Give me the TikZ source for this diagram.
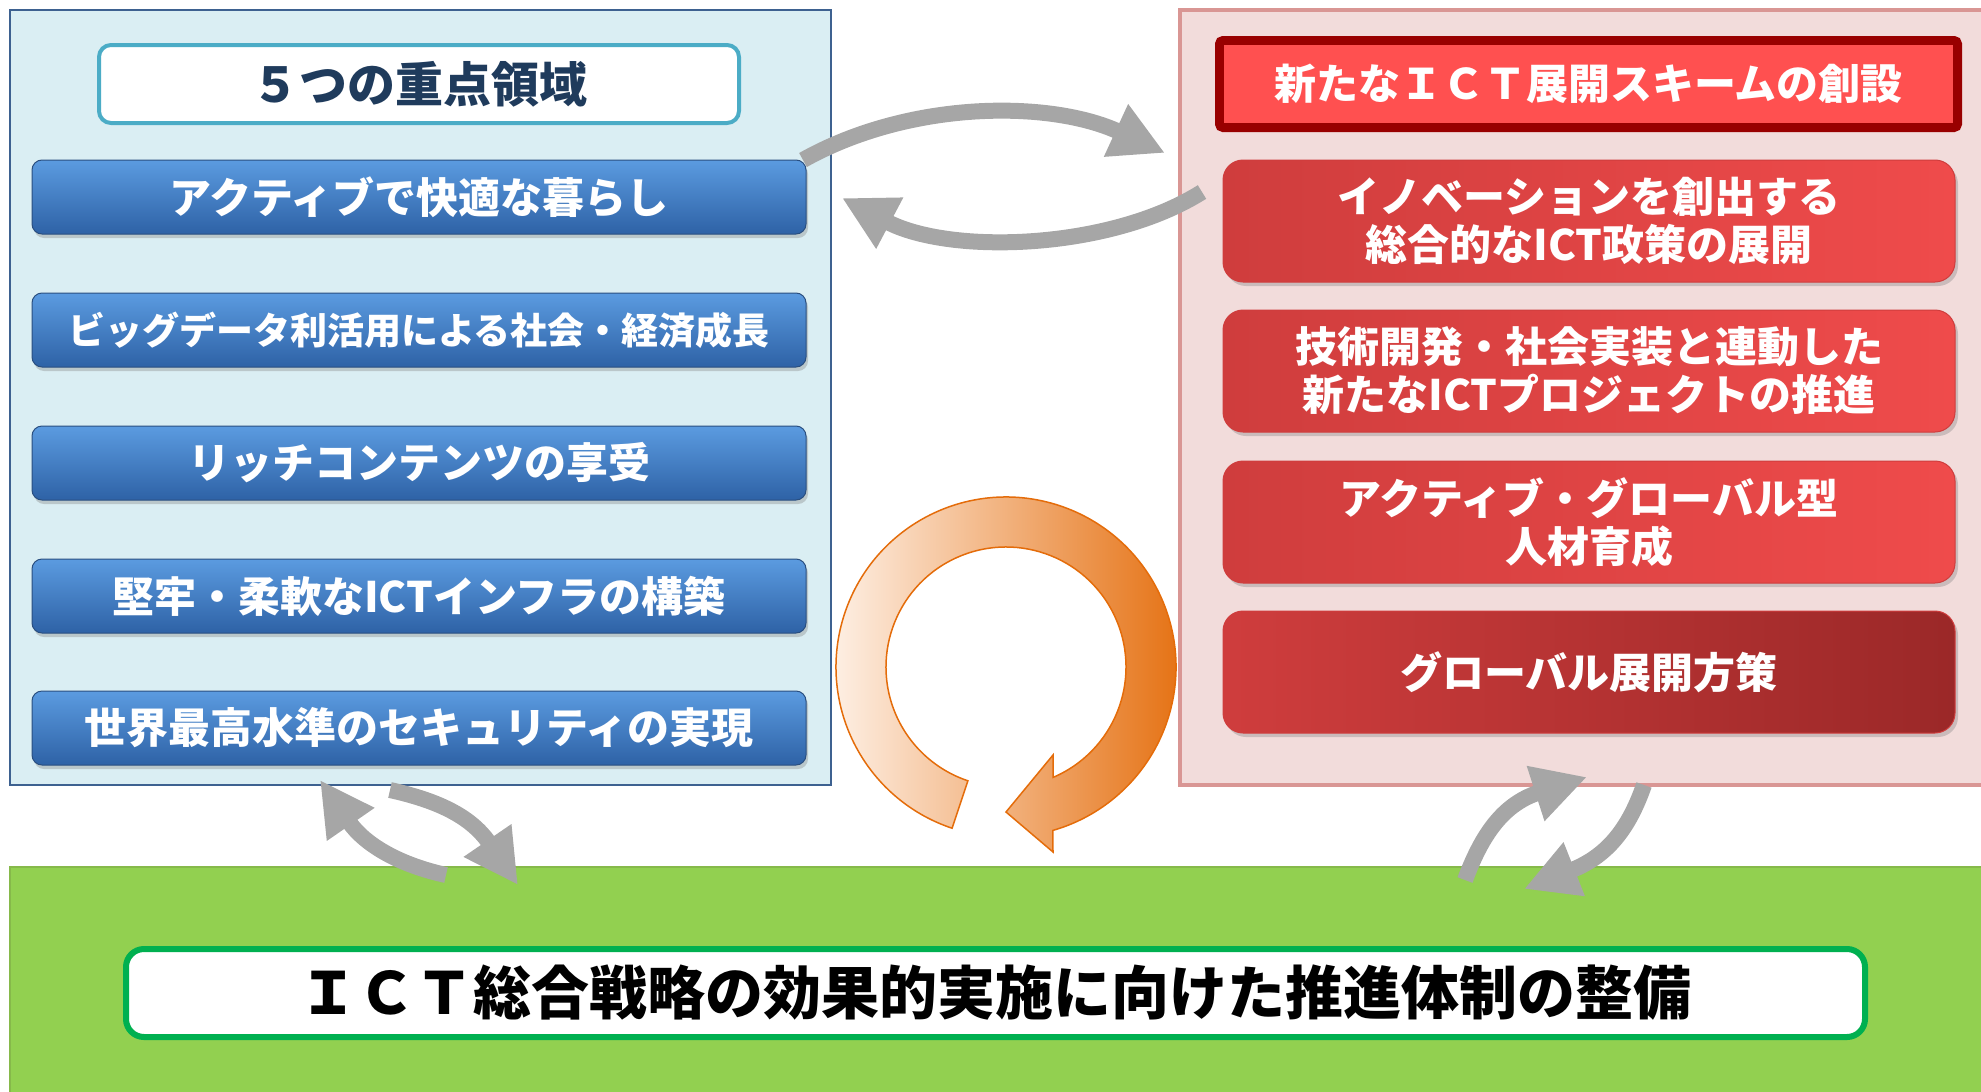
\documentclass[tikz,border=0pt]{standalone}
\usepackage{fontspec}
\setmainfont{Noto Sans CJK JP}
\usetikzlibrary{arrows.meta,shadows}
\definecolor{lpanel}{HTML}{DAEEF3}
\definecolor{lpanelb}{HTML}{3D6190}
\definecolor{rpanel}{HTML}{F2DCDB}
\definecolor{rpanelb}{HTML}{D99694}
\definecolor{teal}{HTML}{4BACC6}
\definecolor{navytxt}{HTML}{1F3B5C}
\definecolor{bluetop}{HTML}{5B9BE0}
\definecolor{bluebot}{HTML}{2E62A6}
\definecolor{blueb}{HTML}{2A4F80}
\definecolor{redL}{HTML}{CF3D3D}
\definecolor{redM}{HTML}{AE2F2F}
\definecolor{redR}{HTML}{EF4B4B}
\definecolor{redD}{HTML}{9B2828}
\definecolor{hdrfill}{HTML}{FF5050}
\definecolor{hdrb}{HTML}{990000}
\definecolor{arrgray}{HTML}{A6A6A6}
\definecolor{orng}{HTML}{E46C0A}
\definecolor{orngL}{HTML}{FFF6EF}
\definecolor{grn}{HTML}{92D050}
\definecolor{grnb}{HTML}{86B94A}
\definecolor{grnline}{HTML}{00B050}
\begin{document}
\begin{tikzpicture}[x=1pt,y=-1pt,
  bluebox/.style={rounded corners=10, minimum width=774, minimum height=74, inner sep=0,
    top color=bluetop, bottom color=bluebot, draw=blueb, line width=1,
    text=white, font=\bfseries\fontsize{42}{48}\selectfont,
    drop shadow={shadow xshift=2pt, shadow yshift=-4pt, opacity=0.35}},
  redbox/.style={rounded corners=20, minimum width=732, minimum height=122, inner sep=0,
    left color=redL, middle color=redM, right color=redR, draw=redL, line width=1,
    text=white, align=center, font=\bfseries\fontsize{42}{48}\selectfont,
    drop shadow={shadow xshift=3pt, shadow yshift=-4pt, opacity=0.35}},
  grayarrow/.style={draw=arrgray, line width=16, -{Triangle[length=54pt, width=54pt]}}
]
\useasboundingbox (0,0) rectangle (1981,1092);
% panels
\path[fill=lpanel, draw=lpanelb, line width=2] (10,10) rectangle (831,785);
\path[fill=rpanel, draw=rpanelb, line width=4] (1180,10) rectangle (1995,785);
\path[fill=grn, draw=grnb, line width=1.5] (10,867) rectangle (1995,1100);
% left title
\node[draw=teal, line width=4, fill=white, rounded corners=12, minimum width=640, minimum height=78,
  inner sep=0, text=navytxt, font=\bfseries\fontsize{48}{52}\selectfont] (ttl) at (419,84) {５つの重点領域};
% blue boxes
\node[bluebox] (b1) at (419,197) {アクティブで快適な暮らし};
\node[bluebox, font=\bfseries\fontsize{37}{44}\selectfont] (b2) at (419,330) {ビッグデータ利活用による社会・経済成長};
\node[bluebox] (b3) at (419,463) {リッチコンテンツの享受};
\node[bluebox] (b4) at (419,596) {堅牢・柔軟なICTインフラの構築};
\node[bluebox] (b5) at (419,728) {世界最高水準のセキュリティの実現};
% right header
\node[draw=hdrb, line width=8, fill=hdrfill, rounded corners=4, minimum width=739, minimum height=88,
  inner sep=0, text=white, font=\bfseries\fontsize{42}{48}\selectfont] (hdr) at (1588.5,84) {新たなＩＣＴ展開スキームの創設};
\draw[hdrb, line width=1.5] ([shift={(8,8)}]hdr.north west) rectangle ([shift={(-8,-8)}]hdr.south east);
% red boxes
\node[redbox] (r1) at (1589,221) {イノベーションを創出する\\総合的なICT政策の展開};
\node[redbox] (r2) at (1589,371) {技術開発・社会実装と連動した\\新たなICTプロジェクトの推進};
\node[redbox] (r3) at (1589,522) {アクティブ・グローバル型\\人材育成};
\node[redbox, left color=redL, right color=redD] (r4) at (1589,672) {グローバル展開方策};
% bottom white box
\node[draw=grnline, line width=6, fill=white, rounded corners=18, minimum width=1739, minimum height=88,
  inner sep=0, text=black, font=\bfseries\fontsize{58}{62}\selectfont] (bot) at (995.5,993) {ＩＣＴ総合戦略の効果的実施に向けた推進体制の整備};
% circular arrow
\begin{scope}[shift={(1006,667)}, y=1pt]
  \path[left color=orngL, right color=orng, draw=orng, line width=1.5]
    (251.5:170) arc[start angle=251.5, end angle=-74, radius=170]
    -- (47,-185) -- (0,-145) -- (47,-88) -- (-66.9:120)
    arc[start angle=-66.9, end angle=251.5, radius=120] -- cycle;
\end{scope}
% gray arrows
\coordinate (u1) at (803,160); \coordinate (u2) at (1165,153);
\draw[grayarrow] (u1) .. controls (910,100) and (1050,100) .. (u2);
\coordinate (l1) at (1202,192); \coordinate (l2) at (842,198);
\draw[grayarrow] (l1) .. controls (1110,250) and (950,255) .. (l2);
\coordinate (a1) at (446,875); \coordinate (a2) at (320,780);
\draw[grayarrow] (a1) .. controls (400,865) and (365,845) .. (a2);
\coordinate (c1) at (390,790); \coordinate (c2) at (518,885);
\draw[grayarrow] (c1) .. controls (435,800) and (470,815) .. (c2);
\coordinate (e1) at (1465,880); \coordinate (e2) at (1587,777);
\draw[grayarrow] (e1) .. controls (1480,840) and (1500,805) .. (e2);
\coordinate (d1) at (1644,785); \coordinate (d2) at (1524,889);
\draw[grayarrow] (d1) .. controls (1630,825) and (1610,855) .. (d2);
\end{tikzpicture}
\end{document}
